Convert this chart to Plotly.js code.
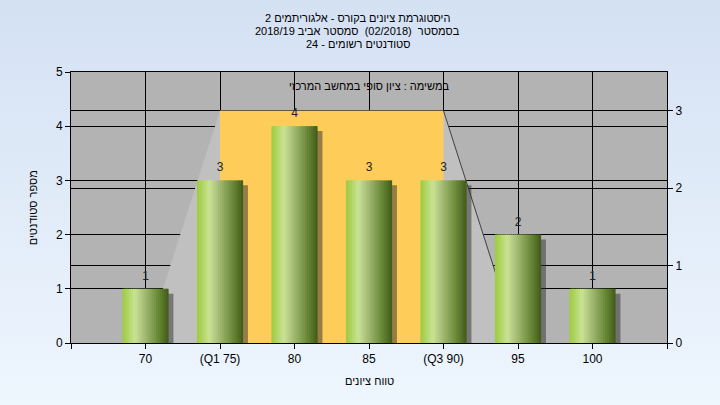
<!DOCTYPE html>
<html>
<head>
<meta charset="utf-8">
<script src="https://cdn.plot.ly/plotly-3.0.1.min.js"></script>
<style>
  html, body { margin:0; padding:0; }
  #chart { width:720px; height:405px; background: linear-gradient(to bottom, #d4e1f3 0%, #eef6fe 100%); }
</style>
</head>
<body>
<div id="chart"></div>
<script>
// ---- data ----
const categories = ['70', '(Q1 75)', '80', '85', '(Q3 90)', '95', '100'];
const counts = [1, 3, 4, 3, 3, 2, 1];
const boxCategories = ['70', '(Q1 75)', '(Q3 90)', '95']; // low whisker, Q1, Q3, high whisker
const boxHeight = [3];
const titleLines = [
  'היסטוגרמת ציונים בקורס - אלגוריתמים 2',
  'בסמסטר  (02/2018)  סמסטר אביב 2018/19',
  'סטודנטים רשומים - 24'
];
const innerLabel = 'במשימה : ציון סופי במחשב המרכזי';
const xTitle = 'טווח ציונים';
const yTitle = 'מספר סטודנטים';
const leftTicks = [0, 1, 2, 3, 4, 5];
const rightTicks = [0, 1, 2, 3];

// ---- build ----
const FONT = 'Liberation Sans, Arial, DejaVu Sans, sans-serif';
const idx = categories.map((c, i) => i);
const barW = 0.62;
const N = 22;
const stops = [
  [0.00, [157, 203, 63]],
  [0.12, [176, 213, 100]],
  [0.27, [203, 227, 149]],
  [0.45, [168, 192, 122]],
  [0.65, [130, 158, 80]],
  [0.85, [92, 122, 44]],
  [1.00, [63, 90, 24]]
];
function colAt(t) {
  for (let i = 0; i < stops.length - 1; i++) {
    const [a, ca] = stops[i], [b, cb] = stops[i + 1];
    if (t >= a && t <= b) {
      const f = (t - a) / (b - a);
      const c = ca.map((v, j) => Math.round(v + (cb[j] - v) * f));
      return 'rgb(' + c.join(',') + ')';
    }
  }
  return 'rgb(63,90,24)';
}

const traces = [];
// box-scale axis (right) is the main subplot
traces.push({
  type: 'scatter', mode: 'markers', x: [idx[0]], y: [0], yaxis: 'y',
  marker: { opacity: 0 }, hoverinfo: 'skip', showlegend: false
});
// shadow
traces.push({
  type: 'bar', x: idx, y: counts.map(v => v - 0.09), yaxis: 'y2',
  width: barW, offset: -barW / 2 + 0.065,
  marker: { color: 'rgba(45,45,45,0.5)', line: { width: 0 } },
  hoverinfo: 'skip', showlegend: false
});
for (let k = 0; k < N; k++) {
  const last = k === N - 1;
  traces.push({
    type: 'bar', x: idx, y: counts, yaxis: 'y2',
    width: last ? barW / N : barW / N * 1.7, offset: -barW / 2 + k * barW / N,
    marker: { color: colAt((k + 0.5) / N), line: { width: 0 } },
    hoverinfo: 'skip', showlegend: false
  });
}
traces.push({
  type: 'scatter', mode: 'markers+text', x: idx, y: counts, yaxis: 'y2',
  text: counts.map(String), textposition: 'top center',
  marker: { size: 8, opacity: 0 },
  textfont: { family: FONT, size: 12, color: '#222' },
  hoverinfo: 'skip', showlegend: false, cliponaxis: false
});

const bi = boxCategories.map(c => categories.indexOf(c));
const bh = boxHeight[0];
const shapes = [
  { type: 'path', xref: 'x', yref: 'y', layer: 'between',
    path: `M ${bi[0]},0 L ${bi[1]},${bh} L ${bi[2]},${bh} L ${bi[3]},0 Z`,
    fillcolor: '#c0c0c0', line: { width: 0 } },
  { type: 'rect', xref: 'x', yref: 'y', layer: 'between',
    x0: bi[1], x1: bi[2], y0: 0, y1: bh,
    fillcolor: '#fecc58', line: { width: 0 } },
  { type: 'line', xref: 'x', yref: 'y', layer: 'between',
    x0: bi[2], y0: bh, x1: bi[3], y1: 0,
    line: { color: '#404040', width: 1 } }
];

const titleY = [1.199, 1.151, 1.103];
const annotations = titleLines.map((t, i) => ({
  text: t, xref: 'paper', yref: 'paper', x: 0.4815, y: titleY[i],
  xanchor: 'center', yanchor: 'middle', showarrow: false,
  font: { family: FONT, size: 11, color: '#000' }
}));
annotations.push({
  text: innerLabel, xref: 'paper', yref: 'paper', x: 0.5, y: 0.948,
  xanchor: 'center', yanchor: 'middle', showarrow: false,
  font: { family: FONT, size: 11, color: '#000' }
});
annotations.push({
  text: yTitle, xref: 'paper', yref: 'paper', x: -0.064, y: 0.5,
  xanchor: 'center', yanchor: 'middle', showarrow: false, textangle: -90,
  font: { family: FONT, size: 11, color: '#000' }
});
annotations.push({
  text: xTitle, xref: 'paper', yref: 'paper', x: 0.5, y: -0.14,
  xanchor: 'center', yanchor: 'middle', showarrow: false,
  font: { family: FONT, size: 11, color: '#000' }
});

const tv = [-1].concat(idx, [categories.length]);
const tt = [''].concat(categories, ['']);
const axisCommon = {
  showgrid: true, gridcolor: '#000', gridwidth: 1,
  ticks: 'outside', ticklen: 5, tickcolor: '#000',
  showline: true, linecolor: '#000', linewidth: 1,
  zeroline: false, tickfont: { family: FONT, size: 12, color: '#000' }, fixedrange: true
};

const layout = {
  width: 720, height: 405,
  margin: { l: 71, r: 53, t: 72, b: 62 },
  paper_bgcolor: 'rgba(0,0,0,0)',
  plot_bgcolor: '#b3b3b3',
  barmode: 'overlay',
  showlegend: false,
  font: { family: FONT, size: 12, color: '#000' },
  xaxis: Object.assign({}, axisCommon, {
    range: [-1, categories.length], tickvals: tv, ticktext: tt, mirror: true
  }),
  yaxis: Object.assign({}, axisCommon, {
    side: 'right', range: [0, 3.5], tickvals: rightTicks
  }),
  yaxis2: Object.assign({}, axisCommon, {
    overlaying: 'y', side: 'left', range: [0, 5], tickvals: leftTicks
  }),
  shapes: shapes,
  annotations: annotations
};

Plotly.newPlot('chart', traces, layout, { displayModeBar: false, staticPlot: true });
</script>
</body>
</html>
